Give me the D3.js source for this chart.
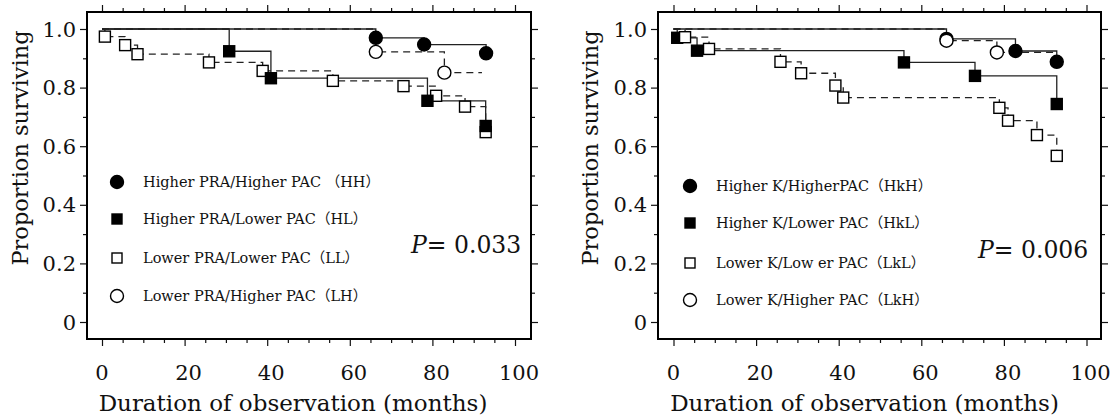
<!DOCTYPE html>
<html>
<head>
<meta charset="utf-8">
<script src="https://cdn.jsdelivr.net/npm/d3@7"></script>
<style>
  body { margin: 0; background: #fff; }
  svg { display: block; }
  text { font-family: "DejaVu Serif", "Noto Sans CJK JP", serif; fill: #111; }
</style>
</head>
<body>
<div id="chart"></div>
<script>
// tick values and labels
var xTicks = [0, 20, 40, 60, 80, 100];
var yTicks = [0, 0.2, 0.4, 0.6, 0.8, 1.0];
var yTickLabels = ["0", "0.2", "0.4", "0.6", "0.8", "1.0"];

// left panel: PRA / PAC groups
var hhTimes = [66.3, 78.0, 93.0];
var hhSurv = [0.970, 0.947, 0.917];
var hlTimes = [30.8, 40.9, 78.8, 92.9];
var hlSurv = [0.924, 0.832, 0.755, 0.669];
var llTimes = [0.7, 5.6, 8.6, 25.9, 38.9, 55.9, 73.0, 80.9, 87.9, 92.9];
var llSurv = [0.974, 0.945, 0.914, 0.886, 0.857, 0.823, 0.805, 0.772, 0.735, 0.648];
var lhTimes = [66.3, 82.9, 92.0];
var lhSurv = [0.922, 0.851, 0.851];

// right panel: K / PAC groups
var hkhTimes = [66.1, 82.8, 92.8];
var hkhSurv = [0.966, 0.925, 0.888];
var hklTimes = [0.9, 5.7, 55.8, 73.0, 92.8];
var hklSurv = [0.970, 0.926, 0.886, 0.840, 0.744];
var lklTimes = [2.8, 8.6, 25.9, 30.9, 39.2, 41.1, 78.9, 81.0, 88.0, 92.8];
var lklSurv = [0.972, 0.932, 0.888, 0.849, 0.807, 0.766, 0.731, 0.687, 0.638, 0.567];
var lkhTimes = [66.1, 78.3, 92.8];
var lkhSurv = [0.960, 0.920, 0.920];

var leftLabels = ["Higher PRA/Higher PAC （HH）", "Higher PRA/Lower PAC（HL）", "Lower PRA/Lower PAC（LL）", "Lower PRA/Higher PAC（LH）"];
var rightLabels = ["Higher K/HigherPAC（HkH）", "Higher K/Lower PAC（HkL）", "Lower K/Low er PAC（LkL）", "Lower K/Higher PAC（LkH）"];
var pLeft = "0.033";
var pRight = "0.006";

var width = 1115;
var height = 419;

var svg = d3.select("#chart").append("svg")
  .attr("width", width)
  .attr("height", height);

// marker styles: filled circle, filled square, open square, open circle
var styles = {
  fc: {shape: "circle", fill: "#000", dash: null},
  fs: {shape: "square", fill: "#000", dash: null},
  os: {shape: "square", fill: "#fff", dash: "7,5"},
  oc: {shape: "circle", fill: "#fff", dash: "7,5"}
};

function toPoints(times, surv, censored) {
  var pts = [{t: 0, s: 1, ev: false}];
  times.forEach(function(t, i) {
    var ev = !(censored && i == times.length - 1);
    pts.push({t: t, s: surv[i], ev: ev});
  });
  return pts;
}

function drawPanel(p) {
  var g = svg.append("g");

  var x = d3.scaleLinear().domain([0, 100]).range([p.x0, p.x100]);
  var y = d3.scaleLinear().domain([0, 1]).range([322, 29]);

  var minorX = d3.range(0, 101, 5).filter(d => d % 20 != 0);
  var minorY = d3.range(0, 1.01, 0.1).filter(d => Math.round(d * 10) % 2 != 0);

  var axes = [
    [d3.axisBottom, p.fy1, x, xTicks, minorX, "x"],
    [d3.axisTop, p.fy0, x, xTicks, minorX, "x"],
    [d3.axisLeft, p.fx0, y, yTicks, minorY, "y"],
    [d3.axisRight, p.fx1, y, yTicks, minorY, "y"]
  ];
  axes.forEach(function(a) {
    [[a[3], 7], [a[4], 4]].forEach(function(tk) {
      var ax = a[0](a[2]).tickValues(tk[0]).tickSize(tk[1]).tickSizeOuter(0).tickFormat("");
      var gg = g.append("g")
        .attr("transform", a[5] == "x" ? `translate(0,${a[1]})` : `translate(${a[1]},0)`)
        .call(ax);
      gg.select(".domain").remove();
      gg.selectAll(".tick line").attr("stroke", "#111").attr("stroke-width", 1.2);
    });
  });

  g.append("rect")
    .attr("x", p.fx0).attr("y", p.fy0)
    .attr("width", p.fx1 - p.fx0).attr("height", p.fy1 - p.fy0)
    .attr("fill", "none").attr("stroke", "#000").attr("stroke-width", 2);

  // tick labels
  g.selectAll(".xl").data(xTicks).enter().append("text")
    .attr("x", d => x(d) + (d == 0 ? 0 : 4)).attr("y", 380)
    .attr("text-anchor", "middle").attr("font-size", 21)
    .text(d => d);
  g.selectAll(".yl").data(yTicks).enter().append("text")
    .attr("x", p.fx0 - 11).attr("y", d => y(d) + 7.5)
    .attr("text-anchor", "end").attr("font-size", 21)
    .text((d, i) => yTickLabels[i]);

  g.append("text")
    .attr("x", p.x0 + 191).attr("y", 411)
    .attr("text-anchor", "middle").attr("font-size", 23)
    .text("Duration of observation (months)");
  g.append("text")
    .attr("transform", `translate(${p.titleX},148) rotate(-90)`)
    .attr("text-anchor", "middle").attr("font-size", 22.5)
    .text("Proportion surviving");

  var line = d3.line()
    .x(d => x(d.t))
    .y(d => y(d.s))
    .curve(d3.curveStepAfter);

  p.series.forEach(function(sr) {
    var st = styles[sr.style];
    var pts = toPoints(sr.times, sr.surv, sr.censored);
    g.append("path")
      .datum(pts)
      .attr("fill", "none")
      .attr("stroke", "#222")
      .attr("stroke-width", 1.3)
      .attr("stroke-dasharray", st.dash)
      .attr("d", line);
  });

  p.series.forEach(function(sr) {
    var st = styles[sr.style];
    var pts = toPoints(sr.times, sr.surv, sr.censored).filter(d => d.ev);
    drawMarkers(g, pts.map(d => [x(d.t), y(d.s)]), st);
  });

  // legend
  p.labels.forEach(function(lab, i) {
    var st = styles[p.legendOrder[i]];
    var ly = p.legendY[i];
    drawMarkers(g, [[p.legendX, ly]], st, true);
    g.append("text")
      .attr("x", p.legendX + 26).attr("y", ly + 4.5)
      .attr("font-size", 14.5)
      .text(lab);
  });

  var pt = g.append("text")
    .attr("x", p.pX).attr("y", p.pY)
    .attr("font-size", 23.5);
  pt.append("tspan").attr("font-style", "italic").text("P");
  pt.append("tspan").text("= " + p.pValue);
}

function drawMarkers(g, pts, st, legend) {
  pts.forEach(function(c) {
    if (st.shape == "circle") {
      g.append("circle")
        .attr("cx", c[0]).attr("cy", c[1]).attr("r", 6.5)
        .attr("fill", st.fill).attr("stroke", "#000").attr("stroke-width", 1.4);
    } else {
      var s = legend ? 10 : 11;
      g.append("rect")
        .attr("x", c[0] - s / 2).attr("y", c[1] - s / 2)
        .attr("width", s).attr("height", s)
        .attr("fill", st.fill).attr("stroke", "#000").attr("stroke-width", 1.4);
    }
  });
}

drawPanel({
  x0: 102, x100: 515, fx0: 87, fx1: 531, fy0: 12, fy1: 339, titleX: 28,
  series: [
    {times: llTimes, surv: llSurv, style: "os"},
    {times: lhTimes, surv: lhSurv, style: "oc", censored: true},
    {times: hhTimes, surv: hhSurv, style: "fc"},
    {times: hlTimes, surv: hlSurv, style: "fs"}
  ],
  labels: leftLabels, legendOrder: ["fc", "fs", "os", "oc"],
  legendX: 117, legendY: [182, 219, 258, 296],
  pX: 411, pY: 253, pValue: pLeft
});

drawPanel({
  x0: 673.5, x100: 1086.5, fx0: 658, fx1: 1101, fy0: 12, fy1: 339, titleX: 598,
  series: [
    {times: hkhTimes, surv: hkhSurv, style: "fc"},
    {times: hklTimes, surv: hklSurv, style: "fs"},
    {times: lklTimes, surv: lklSurv, style: "os"},
    {times: lkhTimes, surv: lkhSurv, style: "oc", censored: true}
  ],
  labels: rightLabels, legendOrder: ["fc", "fs", "os", "oc"],
  legendX: 690, legendY: [186, 223, 263, 300],
  pX: 978, pY: 258, pValue: pRight
});
</script>
</body>
</html>
